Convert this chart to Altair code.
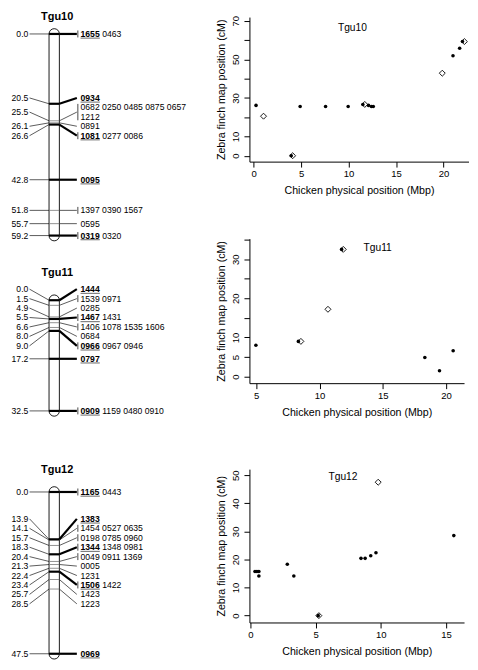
import altair as alt
import pandas as pd

FONT = "Liberation Sans"
SY = 0.985  # small vertical squeeze so the figure fits the page

# ---------------- linkage maps (cM positions, marker groups) ----------------
T10_POS = [0.0, 20.5, 25.5, 26.1, 26.6, 42.8, 51.8, 55.7, 59.2]
T10_MARKERS = ["1655 0463", "0934", "0682 0250 0485 0875 0657 1212", "0891",
               "1081 0277 0086", "0095", "1397 0390 1567", "0595", "0319 0320"]
T10_FRAMEWORK = [1, 1, 0, 0, 1, 1, 0, 0, 1]

T11_POS = [0.0, 1.5, 4.9, 5.5, 6.6, 8.0, 9.0, 17.2, 32.5]
T11_MARKERS = ["1444", "1539 0971", "0285", "1467 1431", "1406 1078 1535 1606",
               "0684", "0966 0967 0946", "0797", "0909 1159 0480 0910"]
T11_FRAMEWORK = [1, 0, 0, 1, 0, 0, 1, 1, 1]

T12_POS = [0.0, 13.9, 14.1, 15.7, 18.3, 20.4, 21.3, 22.4, 23.4, 25.7, 28.5, 47.5]
T12_MARKERS = ["1165 0443", "1383", "1454 0527 0635", "0198 0785 0960",
               "1344 1348 0981", "0049 0911 1369", "0005", "1231", "1506 1422",
               "1423", "1223", "0969"]
T12_FRAMEWORK = [1, 1, 0, 0, 1, 0, 0, 0, 1, 0, 0, 1]

# ---------------- comparative scatter data ----------------
T10_DOT_X = [0.24, 3.95, 4.89, 7.57, 9.95, 11.5, 12.1, 12.4, 12.6, 21.0, 21.7, 22.0]
T10_DOT_Y = [26.1, 0.0, 25.5, 25.5, 25.5, 26.6, 26.1, 25.5, 25.5, 51.8, 55.7, 59.2]
T10_DIA_X = [1.03, 4.1, 11.7, 19.87, 22.2]
T10_DIA_Y = [20.5, 0.0, 26.6, 42.8, 59.2]

T11_DOT_X = [4.97, 8.33, 11.75, 18.33, 19.49, 20.57]
T11_DOT_Y = [8.0, 9.0, 32.5, 4.9, 1.5, 6.6]
T11_DIA_X = [8.53, 10.67, 11.88]
T11_DIA_Y = [9.0, 17.2, 32.5]

T12_DOT_X = [0.35, 0.5, 0.65, 0.65, 2.83, 3.33, 5.2, 8.48, 8.8, 9.23, 9.63, 15.6]
T12_DOT_Y = [15.7, 15.7, 15.7, 14.1, 18.3, 14.1, 0.0, 20.4, 20.4, 21.3, 22.4, 28.5]
T12_DIA_X = [5.25, 9.8]
T12_DIA_Y = [0.0, 47.5]

T10_XTICKS = [0, 5, 10, 15, 20]
T10_YTICKS = [0, 10, 20, 30, 40, 50, 60, 70]
T10_YLABELS = [0, 10, 30, 50, 70]
T11_XTICKS = [5, 10, 15, 20]
T11_YTICKS = [0, 5, 10, 15, 20, 25, 30, 35]
T11_YLABELS = [0, 5, 10, 20, 30]
T12_XTICKS = [0, 5, 10, 15]
T12_YTICKS = [0, 10, 20, 30, 40, 50]
T12_YLABELS = [0, 10, 20, 30, 40, 50]

X_TITLE = "Chicken physical position (Mbp)"
Y_TITLE = "Zebra finch map position (cM)"

# ---------------- layout constants ----------------
PX = 3.48 * SY            # pixels per cM on the maps
LH = 9.65 * SY / PX       # one label line, in cM
CAP = 5.4 * SY / PX       # rounded chromosome end, in cM
MAP_W = 97
LBL_R, LC_X1, CHR_L, CHR_R = 19.5, 20.7, 40.3, 50.7
RC_X2, BAR_X, TXT_X, REST_DX, UL_W = 68.3, 69.3, 72.0, 21.8, 19.4
FS = 8.7
RIGHT_X = 242


def spread(pos, heights):
    blocks = [[i] for i in range(len(pos))]

    def lay(b):
        offs, acc = [], 0.0
        for i in b:
            offs.append(acc + heights[i] / 2)
            acc += heights[i]
        top = sum(pos[i] - o for i, o in zip(b, offs)) / len(b)
        return top, acc, offs

    changed = True
    while changed:
        changed = False
        for k in range(len(blocks) - 1):
            t1, h1, _ = lay(blocks[k])
            t2, _, _ = lay(blocks[k + 1])
            if t1 + h1 > t2 + 1e-9:
                blocks[k] = blocks[k] + blocks[k + 1]
                del blocks[k + 1]
                changed = True
                break
    centers = [0.0] * len(pos)
    for b in blocks:
        top, _, offs = lay(b)
        for i, o in zip(b, offs):
            centers[i] = top + o
    return centers


def linkage_map(name, pos, markers, framework, title_offset):
    groups = [m.split() for m in markers]
    lines = [[g[i:i + 5] for i in range(0, len(g), 5)] for g in groups]
    heights = [len(l) * LH for l in lines]
    centers = spread(pos, heights)
    maxpos = max(pos)
    n = len(pos)

    XS = alt.Scale(domain=[0, MAP_W], nice=False, zero=False)
    YS = alt.Scale(domain=[min(pos), maxpos], nice=False, zero=False, reverse=True)

    def ex(f):
        return alt.X(f + ":Q", scale=XS, axis=None)

    def ey(f):
        return alt.Y(f + ":Q", scale=YS, axis=None)

    left_con = pd.DataFrame({"x1": [LC_X1] * n, "x2": [CHR_L] * n, "y1": centers, "y2": pos})
    chrom = pd.DataFrame({"x1": [CHR_L] * n, "x2": [CHR_R] * n, "y1": pos, "fw": framework})
    right_con = pd.DataFrame({"x1": [CHR_R] * n, "x2": [RC_X2] * n, "y1": pos, "y2": centers, "fw": framework})
    left_lbl = pd.DataFrame({"x": [LBL_R] * n, "y": centers, "t": [f"{p:.1f}" for p in pos]})
    capsule = pd.DataFrame({"x1": [CHR_L], "x2": [CHR_R], "y1": [min(pos) - CAP], "y2": [maxpos + CAP]})

    txt, bold, bars = [], [], []
    for i in range(n):
        top = centers[i] - heights[i] / 2
        ys = [top + LH * (k + 0.5) for k in range(len(lines[i]))]
        for k, ln in enumerate(lines[i]):
            if k == 0 and framework[i]:
                bold.append({"x": TXT_X, "x2": TXT_X + UL_W, "y": ys[k], "t": ln[0]})
                if len(ln) > 1:
                    txt.append({"x": TXT_X + REST_DX, "y": ys[k], "t": " ".join(ln[1:])})
            else:
                txt.append({"x": TXT_X, "y": ys[k], "t": " ".join(ln)})
        if len(groups[i]) > 1:
            bars.append({"x": BAR_X, "y1": ys[0], "y2": ys[-1]})
    txt = pd.DataFrame(txt)
    bold = pd.DataFrame(bold)
    bars = pd.DataFrame(bars)

    layers = [
        alt.Chart(left_con).mark_rule(color="#333333", strokeWidth=0.8).encode(
            x=ex("x1"), x2="x2:Q", y=ey("y1"), y2="y2:Q"),
        alt.Chart(capsule).mark_rect(cornerRadius=5.2, fill="white", stroke="black", strokeWidth=0.9).encode(
            x=ex("x1"), x2="x2:Q", y=ey("y1"), y2="y2:Q"),
        alt.Chart(chrom).transform_filter("datum.fw == 0").mark_rule(color="#777777", strokeWidth=0.8).encode(
            x=ex("x1"), x2="x2:Q", y=ey("y1")),
        alt.Chart(chrom).transform_filter("datum.fw == 1").mark_rule(color="black", strokeWidth=2.2).encode(
            x=ex("x1"), x2="x2:Q", y=ey("y1")),
        alt.Chart(right_con).transform_filter("datum.fw == 0").mark_rule(color="#333333", strokeWidth=0.8).encode(
            x=ex("x1"), x2="x2:Q", y=ey("y1"), y2="y2:Q"),
        alt.Chart(right_con).transform_filter("datum.fw == 1").mark_rule(color="black", strokeWidth=2.2).encode(
            x=ex("x1"), x2="x2:Q", y=ey("y1"), y2="y2:Q"),
        alt.Chart(bars).mark_rule(color="#333333", strokeWidth=0.9, yOffset=-3.5, y2Offset=3.5).encode(
            x=ex("x"), y=ey("y1"), y2="y2:Q"),
        alt.Chart(left_lbl).mark_text(align="right", baseline="middle", font=FONT, fontSize=FS, color="black").encode(
            x=ex("x"), y=ey("y"), text="t:N"),
        alt.Chart(txt).mark_text(align="left", baseline="middle", font=FONT, fontSize=FS, color="black").encode(
            x=ex("x"), y=ey("y"), text="t:N"),
        alt.Chart(bold).mark_text(align="left", baseline="middle", font=FONT, fontSize=FS,
                                  fontWeight="bold", color="black").encode(
            x=ex("x"), y=ey("y"), text="t:N"),
        alt.Chart(bold).mark_rule(color="#444444", strokeWidth=0.8, yOffset=4.2).encode(
            x=ex("x"), x2="x2:Q", y=ey("y")),
    ]
    return alt.layer(*layers).properties(
        width=MAP_W, height=(maxpos - min(pos)) * PX,
        title=alt.TitleParams(name, font=FONT, fontSize=11, fontWeight="bold", color="black",
                              anchor="middle", frame="group", baseline="alphabetic",
                              offset=title_offset))


def scatter(name, dx_, dy_, mx_, my_, xdom, ydom, xticks, yticks, ylabels, w, h, title_at, toff):
    dots = pd.DataFrame({"x": dx_, "y": dy_})
    dia = pd.DataFrame({"x": mx_, "y": my_})
    common = dict(domainColor="black", domainWidth=1, tickColor="black", tickWidth=1, tickSize=5.5,
                  labelFont=FONT, labelFontSize=9.6, labelColor="black", titleFont=FONT,
                  titleFontSize=10.7, titleFontWeight="normal", titleColor="black", grid=False,
                  labelFlush=False, labelOverlap=False)
    X = alt.X("x:Q", scale=alt.Scale(domain=xdom, nice=False, zero=False),
              axis=alt.Axis(values=xticks, title=X_TITLE, labelPadding=1.5, titlePadding=7.5, **common))
    Y = alt.Y("y:Q", scale=alt.Scale(domain=ydom, nice=False, zero=False),
              axis=alt.Axis(values=yticks, title=Y_TITLE, labelAngle=270, labelAlign="center",
                            labelBaseline="alphabetic", labelPadding=5, titlePadding=5,
                            labelExpr=f"indexof({ylabels}, datum.value) >= 0 ? datum.label : ''",
                            **common))
    d = alt.Chart(dots).mark_point(shape="circle", filled=True, color="black", size=13, opacity=1).encode(X, Y)
    m = alt.Chart(dia).mark_point(shape="diamond", filled=False, color="black", size=36,
                                  strokeWidth=0.9, opacity=1).encode(X, Y)
    tdx = ((title_at - xdom[0]) / (xdom[1] - xdom[0]) - 0.5) * w
    return alt.layer(d, m).properties(
        width=w, height=h,
        title=alt.TitleParams(name, font=FONT, fontSize=10.3, fontWeight="normal", color="black",
                              anchor="middle", frame="group", baseline="alphabetic",
                              offset=toff, dx=tdx))


def spacer(h):
    return alt.Chart(pd.DataFrame({"s": [0]})).transform_filter("false").mark_point().properties(
        width=1, height=h)


m10 = linkage_map("Tgu10", T10_POS, T10_MARKERS, T10_FRAMEWORK, -3.2)
m11 = linkage_map("Tgu11", T11_POS, T11_MARKERS, T11_FRAMEWORK, -1.7)
m12 = linkage_map("Tgu12", T12_POS, T12_MARKERS, T12_FRAMEWORK, 2.4)

s10 = scatter("Tgu10", T10_DOT_X, T10_DOT_Y, T10_DIA_X, T10_DIA_Y, [-0.455, 22.635], [-3.05, 71.9],
              T10_XTICKS, T10_YTICKS, T10_YLABELS, 220.5, 147.7 * SY, 10.4, -26.4)
s11 = scatter("Tgu11", T11_DOT_X, T11_DOT_Y, T11_DIA_X, T11_DIA_Y, [4.46, 21.43], [-1.675, 35.25],
              T11_XTICKS, T11_YTICKS, T11_YLABELS, 216, 147.7 * SY, 14.6, -23.2)
s12 = scatter("Tgu12", T12_DOT_X, T12_DOT_Y, T12_DIA_X, T12_DIA_Y, [-0.075, 16.385], [-2.44, 52.16],
              T12_XTICKS, T12_YTICKS, T12_YLABELS, 216, 156.7 * SY, 7.1, -20.9)

left = alt.vconcat(
    spacer((29.7 - 13.3) * SY), m10,
    spacer((301.7 - 29.7) * SY - 59.2 * PX), m11,
    spacer((496.7 - 301.7) * SY - 32.5 * PX), m12,
    spacing=0, bounds="flush")
right = alt.vconcat(
    s10, spacer(77.3 * SY), s11, spacer(87.3 * SY), s12,
    spacing=0, bounds="flush")

chart = alt.hconcat(left, right, spacing=RIGHT_X, bounds="flush").properties(
    padding=0).configure_view(stroke="transparent")

chart.save("out.html", embed_options={"renderer": "svg", "actions": False})
